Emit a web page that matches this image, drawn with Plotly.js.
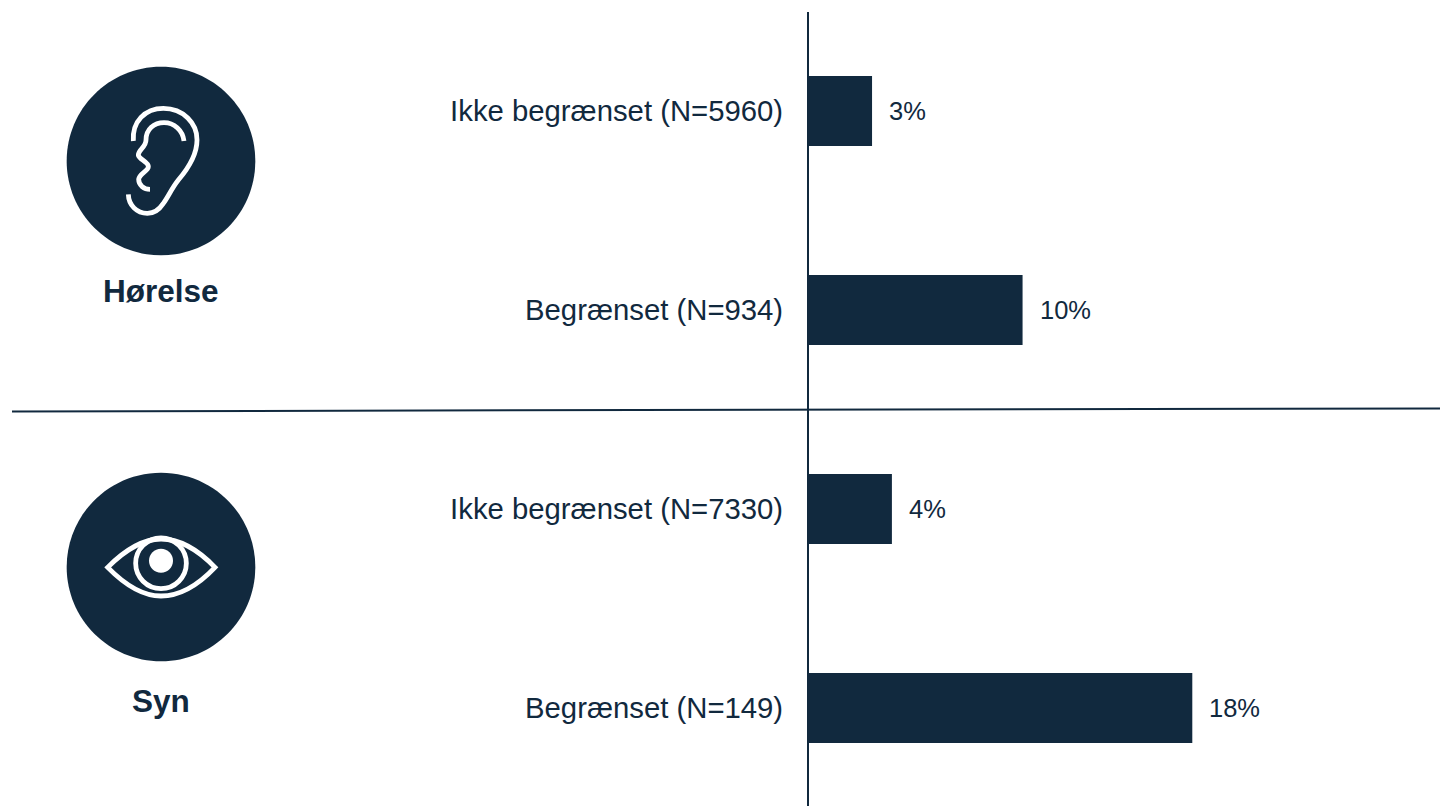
<!DOCTYPE html>
<html>
<head>
<meta charset="utf-8">
<script src="https://cdn.plot.ly/plotly-3.0.1.min.js"></script>
<style>html,body{margin:0;padding:0;background:#fff;overflow:hidden}#chart{width:1440px;height:806px}</style>
</head>
<body>
<div id="chart"></div>
<script>
const categories = ["Ikke begrænset (N=5960)", "Begrænset (N=934)", "Ikke begrænset (N=7330)", "Begrænset (N=149)"];
const positions = [0, 1, 2, 3];
const values = [3.0, 10.05, 3.93, 18.0];
const valueLabels = ["3%", "10%", "4%", "18%"];
const groupTitles = ["Hørelse", "Syn"];

const NAVY = "#11293e";
const W = 1440, H = 806;
const FONT = "Liberation Sans, Arial, sans-serif";

function tr(str, ox, oy) {
  return str.replace(/(-?[\d.]+),(-?[\d.]+)/g, (m, a, b) => {
    const px = ox + parseFloat(a) / 3, py = oy + parseFloat(b) / 3;
    return (px / W).toFixed(5) + "," + (1 - py / H).toFixed(5);
  });
}
function circlePath(cx, cy, r) {
  const k = 0.5523 * r;
  return `M${cx - r},${cy} C${cx - r},${cy - k} ${cx - k},${cy - r} ${cx},${cy - r} ` +
    `C${cx + k},${cy - r} ${cx + r},${cy - k} ${cx + r},${cy} ` +
    `C${cx + r},${cy + k} ${cx + k},${cy + r} ${cx},${cy + r} ` +
    `C${cx - k},${cy + r} ${cx - r},${cy + k} ${cx - r},${cy} Z`;
}
const earOuter = "M220,243 C216,185 255,145 310,145 C370,145 412,190 411,240 C411,285 385,325 355,360 C335,385 325,410 310,430 C297,450 282,460 262,460 C230,460 206,435 205,403";
const earInner = "M372,243 C368,210 342,188 312,188 C282,188 258,208 258,240 C258,262 235,268 235,285 C236,298 265,305 265,320 C265,333 238,340 236,358 C236,376 252,388 270,388";
const eyeLid = "M143,292 C200,235 250,207 303,207 C356,207 410,235 465,292 C410,350 356,378 303,378 C250,378 200,350 143,292 Z";

const stroke = {color: "#ffffff", width: 4.8};
function pathShape(path, fill, line) {
  return {type: "path", xref: "paper", yref: "paper", path, fillcolor: fill, line: line || {width: 0}, layer: "above"};
}
const shapes = [
  {type: "line", xref: "paper", yref: "paper", x0: 12 / W, x1: 1, y0: 1 - 411.4 / H, y1: 1 - 408.4 / H, line: {color: NAVY, width: 2}, layer: "above"},
  pathShape(tr(circlePath(303, 303, 283), 60, 60), NAVY),
  pathShape(tr(earOuter, 60, 60), "rgba(0,0,0,0)", stroke),
  pathShape(tr(earInner, 60, 60), "rgba(0,0,0,0)", stroke),
  pathShape(tr(circlePath(303, 291, 283), 60, 470), NAVY),
  pathShape(tr(eyeLid, 60, 470), "rgba(0,0,0,0)", stroke),
  pathShape(tr(circlePath(303, 280, 76), 60, 470), "rgba(0,0,0,0)", stroke),
  pathShape(tr(circlePath(303, 272, 36), 60, 470), "#ffffff")
];

const annotations = values.map((v, i) => ({
  x: v, y: positions[i], xref: "x", yref: "y", text: valueLabels[i], showarrow: false,
  xanchor: "left", yanchor: "middle", xshift: 15,
  font: {family: FONT, size: 25.5, color: NAVY}
})).concat([
  {xref: "paper", yref: "paper", x: 160.5 / W, y: 1 - 291 / H, text: "<b>" + groupTitles[0] + "</b>", showarrow: false, xanchor: "center", yanchor: "middle", font: {family: FONT, size: 31.5, color: NAVY}},
  {xref: "paper", yref: "paper", x: 160.5 / W, y: 1 - 701 / H, text: "<b>" + groupTitles[1] + "</b>", showarrow: false, xanchor: "center", yanchor: "middle", font: {family: FONT, size: 31.5, color: NAVY}}
]);

Plotly.newPlot("chart", [{
  type: "bar", orientation: "h", x: values, y: positions, width: 0.352,
  marker: {color: NAVY, line: {width: 0}}, hoverinfo: "skip"
}], {
  width: W, height: H,
  margin: {l: 0, r: 0, t: 0, b: 0},
  paper_bgcolor: "#fff", plot_bgcolor: "#fff",
  showlegend: false,
  xaxis: {domain: [804 / W, 1], range: [-4 / 21.35, 632 / 21.35], showgrid: false, zeroline: true, zerolinecolor: NAVY, zerolinewidth: 2, showticklabels: false, ticks: "", showline: false},
  yaxis: {
    domain: [0, 794 / H], range: [3 + 98 / 199, -99 / 199], tickmode: "array", tickvals: positions, ticktext: categories,
    showgrid: false, zeroline: false, showline: false, ticks: "outside", ticklen: 14, tickcolor: "rgba(0,0,0,0)", tickwidth: 1,
    tickfont: {family: FONT, size: 29.3, color: NAVY}
  },
  shapes, annotations
}, {displayModeBar: false, staticPlot: true});
</script>
</body>
</html>
